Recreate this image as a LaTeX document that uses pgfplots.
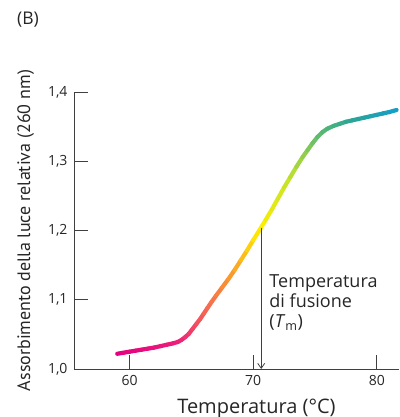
\documentclass[border=0pt]{standalone}
\usepackage{fontspec}
\setmainfont{Open Sans}
\newfontfamily\ylabfont{PT Sans}
\usepackage{pgfplots}
\pgfplotsset{compat=1.18}
\usetikzlibrary{arrows.meta}
\begin{document}
\begin{tikzpicture}[x=1pt,y=1pt]
\path[use as bounding box] (-74,-48) rectangle (325,369);
\begin{axis}[
  at={(0,0)}, anchor=origin,
  scale only axis, width=325pt, height=277pt,
  xmin=55.5, xmax=81.8, ymin=1.0, ymax=1.4,
  axis x line*=bottom, axis y line*=left,
  axis line style={black!75, line width=0.8pt},
  xtick={60,70,80}, ytick={1.0,1.1,1.2,1.3,1.4},
  tick style={black!75, line width=0.8pt},
  major tick length=14pt, tick align=inside,
  /pgf/number format/assume math mode=true,
  ticklabel style={font=\fontsize{14}{16}\selectfont, black!85},
  xticklabel style={yshift=-3pt},
  yticklabel style={xshift=-3pt, /pgf/number format/.cd, fixed, fixed zerofill, precision=1, use comma},
  xlabel={Temperatura (°C)},
  ylabel={Assorbimento della luce relativa (260 nm)},
  xlabel style={font=\fontsize{20}{22}\selectfont, black!85, at={(axis description cs:0.5615,-0.159)}, anchor=base},
  ylabel style={font=\ylabfont\fontsize{18}{20}\selectfont, black!85, at={(axis description cs:-0.149,0.5)}, anchor=center},
  colormap={grad}{rgb255(0)=(228,0,128); rgb255(50)=(236,30,120); rgb255(75)=(245,110,80); rgb255(95)=(250,160,40); rgb255(116)=(255,240,0); rgb255(140)=(195,225,45); rgb255(165)=(90,185,115); rgb255(190)=(45,165,150); rgb255(226)=(20,158,200)},
  clip=false,
]
\addplot[mesh, point meta=x, line width=4.2pt, line cap=round, line join=round] coordinates {
(59.0,1.022) (59.5,1.0235) (60.0,1.025) (60.5,1.0265) (61.0,1.028) (61.5,1.0295) (62.0,1.031) (62.5,1.033) (63.0,1.035) (63.5,1.037) (63.9,1.039) (64.2,1.042) (64.5,1.046) (64.8,1.051) (65.1,1.058) (65.4,1.065) (65.7,1.072) (66.0,1.080) (66.3,1.088) (66.6,1.096) (67.0,1.106) (67.5,1.118) (68.0,1.130) (68.5,1.143) (69.0,1.157) (69.5,1.171) (70.0,1.186) (70.6,1.203) (71.0,1.215) (71.5,1.230) (72.0,1.246) (72.5,1.262) (73.0,1.277) (73.5,1.292) (74.0,1.306) (74.4,1.316) (74.8,1.326) (75.2,1.335) (75.6,1.342) (76.0,1.347) (76.5,1.351) (77.0,1.354) (77.5,1.357) (78.0,1.359) (78.5,1.361) (79.0,1.363) (79.5,1.365) (80.0,1.367) (80.5,1.369) (81.0,1.371) (81.6,1.374)
};
\draw[black!75, line width=0.8pt, -{Straight Barb[length=5pt,width=7pt]}] (axis cs:70.65,1.204) -- (axis cs:70.65,1.0);
\node[anchor=north west, align=left, font=\fontsize{18}{20}\selectfont, black!85, inner sep=0pt] at (axis cs:71.3,1.136) {Temperatura\\di fusione\\(\textit{T}\textsubscript{m})};
\end{axis}
\node[anchor=west, font=\fontsize{17.5}{19}\selectfont, black!85, inner sep=0pt] at (-57,349) {(B)};
\end{tikzpicture}
\end{document}
